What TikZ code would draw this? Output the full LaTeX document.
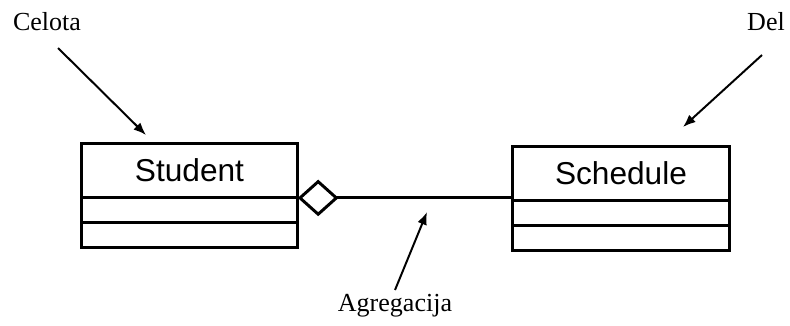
\documentclass[tikz,border=0pt]{standalone}
\usepackage{fontspec}
\setmainfont{Liberation Serif}
\setsansfont{Liberation Sans}
\usetikzlibrary{arrows.meta, positioning}

\tikzset{
  cls/.style={draw, line width=2.1pt, minimum width=154pt, inner sep=0pt, outer sep=0pt},
  clstitle/.style={cls, minimum height=39pt, font=\sffamily\fontsize{22.5}{25}\selectfont},
  clspart/.style={cls, minimum height=17.5pt},
  lbl/.style={font=\fontsize{18.5}{20}\selectfont, inner sep=0pt},
  ptr/.style={-{Latex[length=9pt,width=7pt]}, line width=1.4pt},
}

\begin{document}
\begin{tikzpicture}[x=0.025cm, y=-0.025cm]
  \useasboundingbox (0,0) rectangle (790,325);
  % classes
  \node[clstitle] (student) at (189.5,170.5) {Student};
  \node[clspart, below=0pt of student] (student-a) {};
  \node[clspart, below=0pt of student-a] (student-o) {};
  \node[clstitle] (schedule) at (621,173.5) {Schedule};
  \node[clspart, below=0pt of schedule] (schedule-a) {};
  \node[clspart, below=0pt of schedule-a] (schedule-o) {};
  % aggregation
  \draw[{Diamond[open,length=29pt,width=26pt]}-, line width=2.1pt]
    (student-a.north east) -- (student-a.north east -| schedule.west);
  % labels
  \node[lbl] (celota) at (47,22) {Celota};
  \node[lbl] (del) at (766,22) {Del};
  \node[lbl] (agregacija) at (395,306) {Agregacija};
  \coordinate (celota-s) at (58,48);
  \coordinate (celota-e) at (146,135);
  \coordinate (del-s) at (762,55);
  \coordinate (del-e) at (683,127);
  \coordinate (agregacija-s) at (395,290);
  \coordinate (agregacija-e) at (427,212);
  \draw[ptr] (celota-s) -- (celota-e);
  \draw[ptr] (del-s) -- (del-e);
  \draw[ptr] (agregacija-s) -- (agregacija-e);
\end{tikzpicture}
\end{document}
